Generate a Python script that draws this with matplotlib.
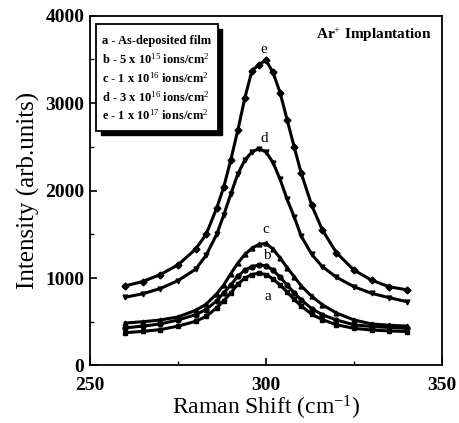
import matplotlib
matplotlib.use("Agg")
import matplotlib.pyplot as plt
from matplotlib.patches import Rectangle
from matplotlib.ticker import MultipleLocator

plt.rcParams['font.family'] = ['Liberation Serif', 'DejaVu Serif']
plt.rcParams['mathtext.fontset'] = 'custom'
plt.rcParams['mathtext.rm'] = 'Liberation Serif'
plt.rcParams['mathtext.it'] = 'Liberation Serif:italic'
plt.rcParams['mathtext.bf'] = 'Liberation Serif:bold'

shift = [260, 265, 270, 275, 280, 283, 286, 288, 290, 292, 294, 296, 298,
         300, 302, 304, 306, 308, 310, 313, 316, 320, 325, 330, 335, 340]
series_a = [375, 390, 410, 450, 505, 560, 660, 740, 830, 930, 1000, 1040, 1055,
            1040, 990, 920, 840, 755, 680, 585, 525, 465, 425, 405, 395, 388]
series_b = [430, 450, 475, 520, 580, 640, 740, 830, 920, 1020, 1090, 1130, 1150,
            1140, 1090, 1010, 920, 830, 750, 650, 580, 520, 465, 445, 435, 425]
series_c = [485, 500, 520, 555, 630, 700, 820, 920, 1050, 1170, 1270, 1340, 1385,
            1395, 1330, 1230, 1120, 1015, 910, 790, 695, 600, 520, 475, 460, 450]
series_d = [780, 820, 880, 970, 1100, 1260, 1500, 1720, 1960, 2190, 2350, 2440, 2480,
            2440, 2320, 2130, 1900, 1700, 1480, 1270, 1130, 1010, 900, 825, 775, 730]
series_e = [910, 960, 1040, 1150, 1330, 1500, 1800, 2040, 2350, 2690, 3060, 3370, 3440,
            3490, 3350, 3120, 2810, 2500, 2200, 1830, 1550, 1290, 1090, 975, 900, 865]
curve_labels = ['a', 'b', 'c', 'd', 'e']
legend_lines = [r'a - As-deposited film',
                r'b - 5 x 10$^{15}$ ions/cm$^{2}$',
                r'c - 1 x 10$^{16}$ ions/cm$^{2}$',
                r'd - 3 x 10$^{16}$ ions/cm$^{2}$',
                r'e - 1 x 10$^{17}$ ions/cm$^{2}$']

fig = plt.figure(figsize=(4.59, 4.23), dpi=100)
ax = fig.add_axes([0.196, 0.136, 0.767, 0.827])

markers = ['s', 'o', '^', 'v', 'D']
allseries = [series_a, series_b, series_c, series_d, series_e]
for s, m in zip(allseries, markers):
    ax.plot(shift, s, color='black', lw=2.2, marker=m, ms=3.5)

# curve letter labels near peaks
label_pos = [(300.5, 790), (300.2, 1260), (300.0, 1560), (299.5, 2600), (299.5, 3610)]
for lab, (xx, yy) in zip(curve_labels, label_pos):
    ax.text(xx, yy, lab, ha='center', va='center', fontsize=11)

ax.set_xlim(250, 350)
ax.set_ylim(0, 4000)
ax.xaxis.set_major_locator(MultipleLocator(50))
ax.xaxis.set_minor_locator(MultipleLocator(25))
ax.yaxis.set_major_locator(MultipleLocator(1000))
ax.yaxis.set_minor_locator(MultipleLocator(500))
ax.tick_params(which='both', direction='in', top=False, right=False)
ax.tick_params(which='major', length=5, width=1.2, labelsize=14)
ax.tick_params(axis='x', which='major', pad=8)
ax.tick_params(axis='y', which='major', pad=4)
ax.tick_params(which='minor', length=3, width=1.0)
for sp in ax.spines.values():
    sp.set_linewidth(1.3)
for lab in ax.get_xticklabels() + ax.get_yticklabels():
    lab.set_fontweight('bold')

ax.set_xlabel(r'Raman Shift (cm$^{-1}$)', fontsize=17, labelpad=0)
ax.set_ylabel('Intensity (arb.units)', fontsize=18, labelpad=4)

# legend box with shadow
bx0, by0, bw, bh = 0.018, 0.67, 0.345, 0.305
ax.add_patch(Rectangle((bx0 + 0.012, by0 - 0.012), bw, bh, transform=ax.transAxes,
                       facecolor='black', edgecolor='black', zorder=5))
ax.add_patch(Rectangle((bx0, by0), bw, bh, transform=ax.transAxes,
                       facecolor='white', edgecolor='black', lw=1.3, zorder=6))
for i, t in enumerate(legend_lines):
    ax.text(bx0 + 0.015, by0 + bh - 0.048 - i * 0.053, t, transform=ax.transAxes,
            fontsize=9, va='center', ha='left', zorder=7, fontweight='bold')

ax.text(0.97, 0.945, r'Ar$^{+}$ Implantation', transform=ax.transAxes,
        ha='right', va='center', fontsize=11, fontweight='bold')

fig.savefig('out.png', dpi=100)
